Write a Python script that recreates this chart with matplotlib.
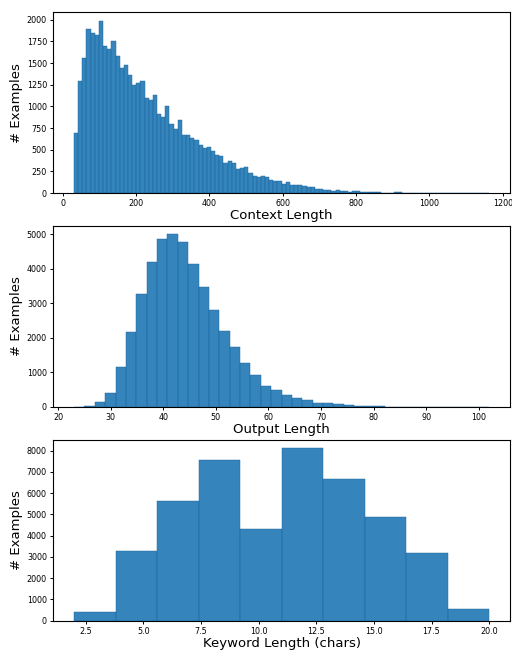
import matplotlib.pyplot as plt
import numpy as np

# context length histogram: 100 bins between 31 and 1163
context_min, context_max = 31, 1163
context_counts = [
    690, 1298, 1563, 1896, 1850, 1819, 1988, 1700, 1666, 1758,
    1586, 1448, 1482, 1367, 1241, 1275, 1298, 1092, 1069, 1126,
    908, 873, 1000, 793, 735, 839, 666, 666, 632, 609,
    550, 517, 528, 483, 437, 425, 345, 368, 345, 276,
    287, 299, 230, 195, 184, 195, 184, 149, 138, 138,
    103, 126, 92, 92, 92, 80, 69, 69, 46, 46,
    34, 34, 23, 34, 23, 23, 11, 23, 23, 12,
    10, 9, 8, 8, 7, 6, 5, 9, 8, 3,
    3, 2, 2, 1, 2, 1, 1, 1, 1, 0,
    1, 0, 0, 1, 0, 0, 0, 0, 0, 1,
]

# output length histogram: 40 bins between 23 and 102
output_min, output_max = 23, 102
output_counts = [
    8, 15, 135, 395, 1146, 2157, 3255, 4179, 4844, 4988,
    4757, 4122, 3457, 2793, 2186, 1724, 1262, 915, 597, 481,
    337, 250, 193, 106, 106, 77, 48, 20, 20, 15,
    12, 10, 8, 2, 1, 1, 0, 1, 3, 2,
]

# keyword length histogram: 10 bins between 2 and 20
keyword_min, keyword_max = 2, 20
keyword_counts = [408, 3279, 5633, 7562, 4315, 8117, 6660, 4874, 3181, 550]

panels = [
    (context_min, context_max, context_counts, "Context Length"),
    (output_min, output_max, output_counts, "Output Length"),
    (keyword_min, keyword_max, keyword_counts, "Keyword Length (chars)"),
]

fig, axs = plt.subplots(3, 1, figsize=(5.12, 6.5), dpi=100)
fig.subplots_adjust(left=0.104, right=0.996, top=0.9815, bottom=0.045, hspace=0.18)

for ax, (lo, hi, counts, label) in zip(axs, panels):
    edges = np.linspace(lo, hi, len(counts) + 1)
    ax.hist(edges[:-1], bins=edges, weights=counts, alpha=0.9,
            edgecolor=(0.1, 0.4, 0.62, 0.6), linewidth=0.35)
    ax.set_xlabel(label, fontsize=9.5, labelpad=0.5)
    ax.set_ylabel("# Examples", fontsize=9.5, labelpad=3)
    ax.tick_params(labelsize=5.8, length=2.5, width=0.7, pad=2)

fig.savefig("out.png", dpi=100)
